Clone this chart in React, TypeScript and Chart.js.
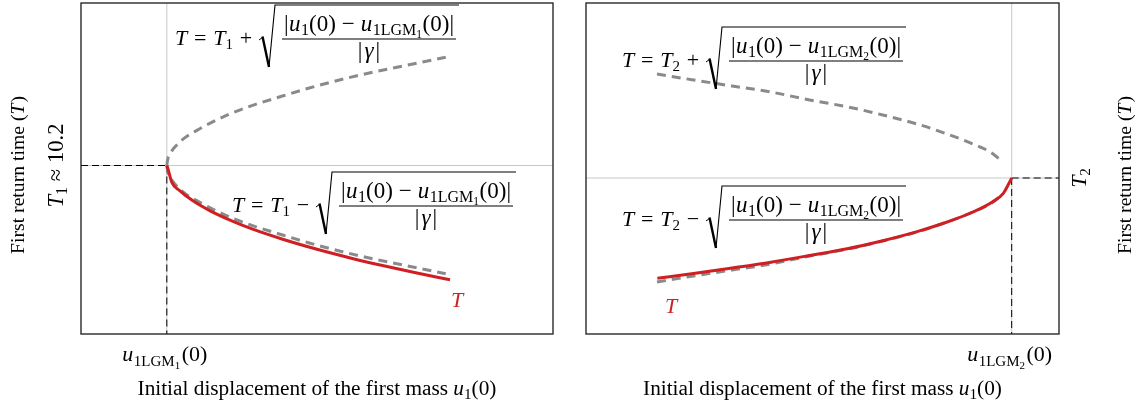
import React, { useEffect, useRef } from "react";
import { Chart, registerables } from "chart.js";

Chart.register(...registerables);

const FAMILY = '"Liberation Serif", "Times New Roman", Times, serif';
const RED = "#d01f22";
const DASH_GRAY = "#8a8a8a";
const GUIDE_GRAY = "#c8c8c8";

// ---- left panel: branch through u1LGM1(0), T1 ≈ 10.2 ----
const T1 = 10.2;
const leftXRange = [-0.2, 0.9];
const leftYRange = [8.52, 11.82];
const leftBranchU = [0, 0.002, 0.008, 0.02, 0.04, 0.07, 0.1, 0.15, 0.2, 0.26, 0.33, 0.4, 0.48, 0.56, 0.65];
const leftUpperT = [10.2, 10.26, 10.32, 10.39, 10.47, 10.55, 10.62, 10.72, 10.8, 10.88, 10.97, 11.05, 11.13, 11.2, 11.28];
const leftLowerT = [10.2, 10.14, 10.08, 10.01, 9.93, 9.85, 9.78, 9.68, 9.6, 9.52, 9.43, 9.35, 9.27, 9.2, 9.12];
const leftTU = [0, 0.003, 0.012, 0.03, 0.06, 0.1, 0.15, 0.2, 0.27, 0.35, 0.43, 0.5, 0.58, 0.66];
const leftT = [10.2, 10.16, 10.03, 9.95, 9.85, 9.75, 9.65, 9.565, 9.465, 9.365, 9.276, 9.205, 9.13, 9.06];

// ---- right panel: branch ending at u1LGM2(0), T2 ----
const T2 = 10.5;
const rightXRange = [-0.99, 0.11];
const rightYRange = [8.94, 12.25];
const rightBranchU = [-0.825, -0.74, -0.65, -0.56, -0.47, -0.38, -0.3, -0.22, -0.15, -0.09, -0.05, -0.023];
const rightUpperT = [11.54, 11.48, 11.42, 11.36, 11.28, 11.21, 11.13, 11.04, 10.94, 10.84, 10.76, 10.67];
const rightLowerT = [9.46, 9.52, 9.58, 9.64, 9.72, 9.79, 9.87, 9.96, 10.06, 10.16, 10.24, 10.33];
const rightTU = [-0.824, -0.74, -0.65, -0.56, -0.47, -0.38, -0.3, -0.22, -0.15, -0.09, -0.045, -0.0195, -0.006, 0];
const rightT = [9.497, 9.545, 9.6, 9.658, 9.725, 9.795, 9.873, 9.964, 10.06, 10.16, 10.26, 10.347, 10.45, 10.5];

// A piece of text: size, italic, baseline shift, extra room after it, and whether
// it may absorb spare width when a row is stretched.
type Run = { t: string; s: number; it?: boolean; dy?: number; after?: number; flex?: boolean };

const fontOf = (r: Run) => `${r.it ? "italic " : ""}${r.s}px ${FAMILY}`;

function measureRuns(ctx: CanvasRenderingContext2D, runs: Run[]) {
  return runs.map((r) => {
    ctx.font = fontOf(r);
    return ctx.measureText(r.t).width + (r.after ?? 0);
  });
}

function drawRuns(
  ctx: CanvasRenderingContext2D,
  runs: Run[],
  x: number,
  y: number,
  opt: { width?: number; align?: "left" | "center"; color?: string } = {}
) {
  const ws = measureRuns(ctx, runs);
  const nat = ws.reduce((a, b) => a + b, 0);
  const nFlex = runs.filter((r) => r.flex).length;
  const extra = opt.width !== undefined && nFlex > 0 ? (opt.width - nat) / nFlex : 0;
  const total = nat + extra * nFlex;
  let cx = opt.align === "center" ? x - total / 2 : x;
  ctx.fillStyle = opt.color ?? "#000";
  ctx.textAlign = "left";
  ctx.textBaseline = "alphabetic";
  runs.forEach((r, i) => {
    ctx.font = fontOf(r);
    const pad = r.flex ? extra / 2 : 0;
    ctx.fillText(r.t, cx + pad, y + (r.dy ?? 0));
    cx += ws[i] + (r.flex ? extra : 0);
  });
  return total;
}

// Scales every piece so the whole row has the given width.
function fit(ctx: CanvasRenderingContext2D, runs: Run[], width: number): Run[] {
  const nat = measureRuns(ctx, runs).reduce((a, b) => a + b, 0);
  const k = width / nat;
  return runs.map((r) => ({ ...r, s: r.s * k, dy: (r.dy ?? 0) * k, after: (r.after ?? 0) * k }));
}

function drawRotated(ctx: CanvasRenderingContext2D, runs: Run[], baseX: number, cy: number) {
  ctx.save();
  ctx.translate(baseX, cy);
  ctx.rotate(-Math.PI / 2);
  drawRuns(ctx, runs, 0, 0, { align: "center" });
  ctx.restore();
}

// T = T_k ± sqrt(|u1(0) - u1LGM_k(0)| / |γ|)
function drawFormula(ctx: CanvasRenderingContext2D, x0: number, b: number, sign: string, idx: string) {
  const S = 22;
  const N = 23;
  const head: Run[] = [
    { t: "T", s: S, it: true },
    { t: " = ", s: S, flex: true },
    { t: "T", s: S, it: true },
    { t: idx, s: 15, dy: 4 },
    { t: ` ${sign} `, s: S, flex: true },
  ];
  drawRuns(ctx, head, x0, b, { width: 84 });

  const xr = x0 + 84;
  const barL = xr + 23;
  const barR = barL + 174;
  const barY = b - 6;
  const top = b - 40;

  ctx.strokeStyle = "#000";
  ctx.lineCap = "butt";
  ctx.lineJoin = "miter";
  ctx.lineWidth = 1;
  ctx.beginPath();
  ctx.moveTo(xr, b - 5);
  ctx.lineTo(xr + 4, b - 8);
  ctx.stroke();
  ctx.lineWidth = 2.4;
  ctx.beginPath();
  ctx.moveTo(xr + 3.5, b - 8.5);
  ctx.lineTo(xr + 10, b + 22);
  ctx.stroke();
  ctx.lineWidth = 1.1;
  ctx.beginPath();
  ctx.moveTo(xr + 10, b + 22);
  ctx.lineTo(xr + 16, top);
  ctx.lineTo(barR + 3, top);
  ctx.stroke();

  ctx.lineWidth = 1.1;
  ctx.beginPath();
  ctx.moveTo(barL, barY);
  ctx.lineTo(barR, barY);
  ctx.stroke();

  const mid = (barL + barR) / 2;
  const num: Run[] = [
    { t: "|", s: N, after: 0.5 },
    { t: "u", s: N, it: true, after: 0.5 },
    { t: "1", s: 16, dy: 4 },
    { t: "(0)", s: N },
    { t: " \u2212 ", s: N, flex: true },
    { t: "u", s: N, it: true, after: 0.5 },
    { t: "1LGM", s: 16, dy: 4 },
    { t: idx, s: 11.5, dy: 7, after: 0.5 },
    { t: "(0)|", s: N },
  ];
  drawRuns(ctx, num, mid, barY - 8, { width: 170, align: "center" });
  const den: Run[] = [
    { t: "|", s: N, after: 2 },
    { t: "\u03b3", s: N, it: true, after: 2 },
    { t: "|", s: N },
  ];
  drawRuns(ctx, den, mid, barY + 19, { align: "center" });
}

type PanelSpec = {
  offsetX: number;
  padding: { left: number; right: number; top: number; bottom: number };
  xRange: number[];
  yRange: number[];
  idx: string;
  datasets: any[];
  decorate: (ctx: CanvasRenderingContext2D, chart: Chart) => void;
};

const pts = (us: number[], ts: number[]) => us.map((u, i) => ({ x: u, y: ts[i] }));

function curve(data: any[], color: string, dashed: boolean) {
  return {
    data,
    borderColor: color,
    borderWidth: 3,
    borderDash: dashed ? [9, 6] : [],
    cubicInterpolationMode: "monotone",
    pointRadius: 0,
    fill: false,
  };
}

function guide(data: any[], color: string, dashed: boolean) {
  return {
    data,
    borderColor: color,
    borderWidth: 1,
    borderDash: dashed ? [7, 4] : [],
    pointRadius: 0,
    fill: false,
    tension: 0,
  };
}

function commonLabels(ctx: CanvasRenderingContext2D, chart: Chart, spec: PanelSpec) {
  const a = chart.chartArea;
  const xs = chart.scales.x;
  // frame
  ctx.strokeStyle = "#2a2a2a";
  ctx.lineWidth = 1.4;
  ctx.setLineDash([]);
  ctx.strokeRect(a.left, a.top, a.right - a.left, a.bottom - a.top);

  // tick label under the crossing point
  const tick: Run[] = [
    { t: "u", s: 22, it: true, after: 0.5 },
    { t: "1LGM", s: 15, dy: 5 },
    { t: spec.idx, s: 11, dy: 8, after: 1.5 },
    { t: "(0)", s: 22 },
  ];
  drawRuns(ctx, tick, xs.getPixelForValue(0) - 2, 361, { align: "center" });

  // x axis title
  const title = fit(
    ctx,
    [
      { t: "Initial displacement of the first mass ", s: 21 },
      { t: "u", s: 21, it: true },
      { t: "1", s: 15, dy: 4 },
      { t: "(0)", s: 21 },
    ],
    359
  );
  drawRuns(ctx, title, (a.left + a.right) / 2, 395, { align: "center" });
}

function yTitle(ctx: CanvasRenderingContext2D): Run[] {
  return fit(
    ctx,
    [
      { t: "First return time (", s: 20 },
      { t: "T", s: 20, it: true, after: 1 },
      { t: ")", s: 20 },
    ],
    158
  );
}

const leftSpec: PanelSpec = {
  offsetX: 0,
  padding: { left: 81, right: 15, top: 3, bottom: 78 },
  xRange: leftXRange,
  yRange: leftYRange,
  idx: "1",
  datasets: [
    curve(pts(leftTU, leftT), RED, false),
    curve(pts(leftBranchU, leftUpperT), DASH_GRAY, true),
    curve(pts(leftBranchU, leftLowerT), DASH_GRAY, true),
    guide([{ x: 0, y: T1 }, { x: 0, y: leftYRange[0] }], "#000", true),
    guide([{ x: leftXRange[0], y: T1 }, { x: 0, y: T1 }], "#000", true),
    guide([{ x: 0, y: leftYRange[0] }, { x: 0, y: leftYRange[1] }], GUIDE_GRAY, false),
    guide([{ x: leftXRange[0], y: T1 }, { x: leftXRange[1], y: T1 }], GUIDE_GRAY, false),
  ],
  decorate: (ctx, chart) => {
    commonLabels(ctx, chart, leftSpec);
    drawFormula(ctx, 175, 45, "+", "1");
    drawFormula(ctx, 232, 212, "\u2212", "1");
    drawRuns(ctx, [{ t: "T", s: 22, it: true }], 451, 307, { color: RED });
    drawRotated(ctx, yTitle(ctx), 24, 175);
    const t1 = fit(
      ctx,
      [
        { t: "T", s: 21, it: true },
        { t: "1", s: 15, dy: 4 },
        { t: " \u2248 10.2", s: 21 },
      ],
      84
    );
    drawRotated(ctx, t1, 63, chart.scales.y.getPixelForValue(T1));
  },
};

const rightSpec: PanelSpec = {
  offsetX: 568,
  padding: { left: 18, right: 77, top: 3, bottom: 78 },
  xRange: rightXRange,
  yRange: rightYRange,
  idx: "2",
  datasets: [
    curve(pts(rightTU, rightT), RED, false),
    curve(pts(rightBranchU, rightUpperT), DASH_GRAY, true),
    curve(pts(rightBranchU, rightLowerT), DASH_GRAY, true),
    guide([{ x: 0, y: T2 }, { x: 0, y: rightYRange[0] }], "#000", true),
    guide([{ x: 0, y: T2 }, { x: rightXRange[1], y: T2 }], "#000", true),
    guide([{ x: 0, y: rightYRange[0] }, { x: 0, y: rightYRange[1] }], GUIDE_GRAY, false),
    guide([{ x: rightXRange[0], y: T2 }, { x: rightXRange[1], y: T2 }], GUIDE_GRAY, false),
  ],
  decorate: (ctx, chart) => {
    commonLabels(ctx, chart, rightSpec);
    drawFormula(ctx, 622 - 568, 67, "+", "2");
    drawFormula(ctx, 622 - 568, 226, "\u2212", "2");
    drawRuns(ctx, [{ t: "T", s: 22, it: true }], 665 - 568, 313, { color: RED });
    drawRotated(
      ctx,
      [
        { t: "T", s: 22, it: true },
        { t: "2", s: 15, dy: 4 },
      ],
      1086 - 568,
      chart.scales.y.getPixelForValue(T2)
    );
    drawRotated(ctx, yTitle(ctx), 1131 - 568, 175);
  },
};

function Panel({ spec }: { spec: PanelSpec }) {
  const ref = useRef<HTMLCanvasElement>(null);
  useEffect(() => {
    const overlay = {
      id: "overlay",
      afterDraw(chart: Chart) {
        const ctx = chart.ctx;
        ctx.save();
        spec.decorate(ctx, chart);
        ctx.restore();
      },
    };
    const chart = new Chart(ref.current as HTMLCanvasElement, {
      type: "line",
      data: { datasets: spec.datasets },
      options: {
        responsive: false,
        animation: false,
        devicePixelRatio: 1,
        events: [],
        layout: { padding: spec.padding },
        scales: {
          x: { type: "linear", min: spec.xRange[0], max: spec.xRange[1], display: false },
          y: { type: "linear", min: spec.yRange[0], max: spec.yRange[1], display: false },
        },
        plugins: { legend: { display: false }, tooltip: { enabled: false } },
        elements: { line: { borderCapStyle: "butt" } },
      } as any,
      plugins: [overlay],
    });
    return () => chart.destroy();
  }, [spec]);
  return (
    <canvas
      ref={ref}
      width={568}
      height={412}
      style={{ position: "absolute", left: spec.offsetX, top: 0, width: 568, height: 412 }}
    />
  );
}

export default function App() {
  return (
    <div style={{ position: "absolute", left: 0, top: 0, width: 1136, height: 412, background: "#fff" }}>
      <Panel spec={leftSpec} />
      <Panel spec={rightSpec} />
    </div>
  );
}
